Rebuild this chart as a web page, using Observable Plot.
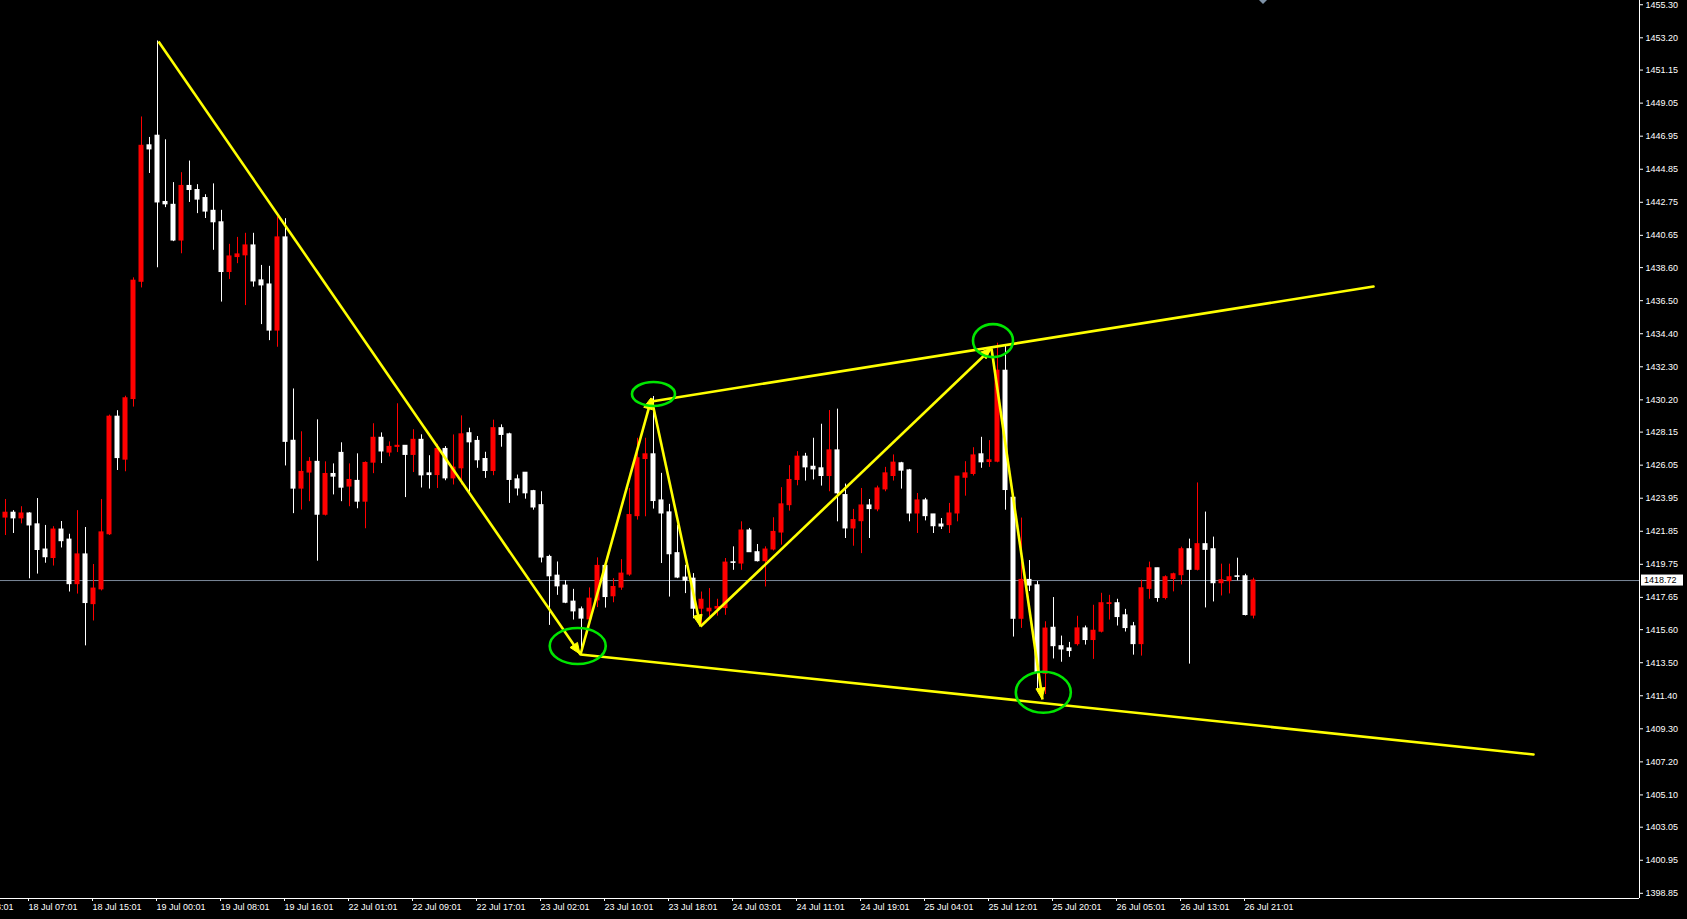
<!DOCTYPE html>
<html><head><meta charset="utf-8">
<script src="https://cdn.jsdelivr.net/npm/d3@7"></script>
<script src="https://cdn.jsdelivr.net/npm/@observablehq/plot@0.6"></script>
<style>html,body{margin:0;padding:0;background:#000;overflow:hidden}</style>
</head><body><div id="chart"></div>
<script>
// ---- data (hourly bars, index 5..161) ----
const firstBar = 5;
const opens = [1422.72,1423.03,1422.67,1422.98,1422.29,1420.69,1420.15,1421.96,1421.32,1418.49,1420.38,1417.22,1418.16,1421.66,1429.13,1426.40,1430.25,1437.70,1446.37,1446.98,1442.77,1442.59,1440.32,1443.79,1443.53,1443.02,1442.21,1441.48,1438.32,1439.27,1439.38,1440.01,1437.79,1437.53,1434.60,1440.52,1427.60,1424.56,1425.58,1426.26,1422.90,1425.49,1426.83,1424.69,1425.05,1423.73,1426.21,1427.79,1426.85,1427.21,1427.28,1426.70,1427.66,1425.53,1425.42,1427.08,1425.21,1425.85,1428.08,1427.59,1426.44,1425.68,1428.40,1428.01,1425.15,1425.57,1424.40,1423.51,1420.22,1419.03,1418.40,1417.38,1416.89,1416.25,1417.46,1419.65,1417.72,1418.27,1419.10,1422.81,1426.44,1426.74,1423.81,1423.05,1420.46,1418.91,1418.84,1416.93,1416.76,1416.93,1416.97,1419.88,1419.80,1421.90,1420.52,1419.95,1420.69,1421.77,1423.51,1425.11,1426.59,1425.95,1425.85,1425.36,1426.99,1424.15,1422.03,1422.49,1423.49,1423.24,1424.51,1425.36,1426.17,1425.72,1422.98,1423.81,1422.92,1422.28,1422.24,1422.98,1425.25,1425.49,1426.74,1426.25,1426.27,1432.05,1423.98,1416.29,1418.76,1418.42,1412.80,1415.72,1414.55,1414.41,1414.68,1415.68,1414.94,1415.47,1417.23,1417.28,1416.51,1415.81,1414.68,1418.19,1419.50,1417.61,1418.82,1419.06,1420.71,1419.40,1421.03,1420.71,1418.55,1418.68,1418.99,1418.99,1416.49];
const highs = [1423.87,1423.16,1423.41,1423.03,1423.93,1422.22,1422.14,1422.47,1421.66,1423.16,1422.09,1419.74,1423.87,1429.23,1429.51,1430.43,1437.95,1448.17,1446.87,1453.00,1446.72,1444.00,1444.63,1445.37,1443.87,1443.23,1443.92,1442.24,1440.08,1440.52,1440.78,1440.78,1438.74,1438.68,1441.82,1441.71,1430.89,1428.17,1426.53,1428.93,1426.26,1426.13,1427.47,1426.13,1426.77,1426.26,1428.68,1428.10,1427.53,1429.95,1427.28,1428.30,1427.98,1426.65,1427.38,1427.23,1427.97,1429.18,1428.40,1427.87,1426.87,1428.91,1428.61,1428.08,1425.42,1425.57,1424.45,1424.36,1420.33,1419.90,1418.71,1418.16,1417.04,1418.25,1420.16,1419.78,1418.84,1420.05,1424.57,1427.76,1427.76,1430.41,1425.53,1423.56,1422.24,1419.69,1419.16,1417.99,1418.21,1417.53,1420.12,1420.86,1422.45,1422.03,1421.01,1420.86,1422.71,1424.62,1426.02,1426.91,1426.80,1427.76,1428.65,1429.52,1429.61,1424.85,1423.24,1424.57,1423.87,1424.72,1425.91,1426.70,1426.23,1425.78,1424.25,1423.94,1422.92,1422.66,1423.62,1425.32,1426.27,1427.16,1427.82,1427.61,1433.80,1433.60,1424.20,1422.69,1419.99,1418.66,1416.10,1417.64,1415.19,1414.79,1416.45,1415.83,1417.15,1417.91,1417.78,1417.53,1416.89,1416.06,1418.74,1419.89,1419.50,1419.02,1419.19,1420.84,1421.35,1424.92,1423.07,1421.48,1419.76,1419.76,1420.14,1419.12,1418.87];
const lows = [1421.58,1421.71,1422.32,1418.83,1419.13,1419.82,1419.64,1420.79,1417.99,1417.86,1414.57,1416.15,1418.06,1421.58,1425.71,1425.63,1429.74,1437.31,1444.58,1438.59,1442.41,1440.25,1439.48,1442.74,1442.03,1441.72,1439.70,1436.41,1437.85,1438.85,1436.19,1437.36,1434.98,1433.96,1433.54,1426.00,1422.97,1423.20,1423.73,1419.95,1422.82,1424.16,1423.73,1423.41,1423.28,1422.01,1425.51,1426.15,1426.58,1426.85,1423.99,1425.58,1424.60,1424.53,1424.57,1425.06,1424.79,1424.79,1424.26,1425.85,1425.21,1425.38,1427.19,1423.62,1424.09,1423.89,1423.19,1419.84,1415.87,1417.78,1417.25,1416.21,1414.20,1415.87,1417.00,1416.97,1417.31,1418.10,1418.99,1422.56,1422.77,1423.26,1419.80,1417.67,1418.84,1417.89,1416.29,1415.80,1416.34,1416.46,1416.51,1419.37,1419.37,1420.52,1419.90,1418.31,1420.60,1420.97,1423.13,1424.74,1425.04,1425.11,1424.72,1424.36,1422.45,1421.39,1420.90,1420.43,1421.39,1423.09,1424.36,1425.04,1424.53,1422.45,1421.71,1422.51,1421.71,1421.96,1421.71,1422.45,1424.08,1425.36,1425.85,1425.91,1426.20,1423.19,1415.13,1415.68,1418.02,1411.73,1411.48,1413.74,1413.53,1413.84,1414.56,1414.62,1413.71,1415.39,1416.21,1415.83,1415.45,1413.98,1413.92,1417.53,1417.34,1417.49,1418.00,1418.44,1413.41,1419.33,1416.98,1417.36,1417.74,1417.87,1418.70,1416.47,1416.28];
const closes = [1423.03,1422.67,1422.98,1422.22,1420.66,1420.20,1421.96,1421.22,1418.49,1420.38,1417.29,1418.21,1421.78,1429.13,1426.50,1430.30,1437.77,1446.34,1446.11,1442.74,1442.62,1440.32,1443.79,1443.53,1442.92,1442.16,1441.48,1438.32,1439.31,1439.44,1440.01,1437.72,1437.47,1434.60,1440.52,1427.53,1424.56,1425.62,1426.26,1422.90,1425.49,1425.32,1424.62,1425.11,1423.73,1426.19,1427.79,1426.92,1427.21,1427.28,1426.70,1427.66,1425.40,1425.42,1427.08,1425.21,1425.89,1428.01,1427.50,1426.36,1425.68,1428.40,1427.97,1425.11,1424.57,1424.26,1423.36,1420.18,1418.99,1418.35,1417.31,1416.76,1416.30,1417.57,1419.65,1417.67,1418.31,1419.16,1422.88,1426.49,1426.74,1423.77,1422.98,1420.39,1418.91,1418.71,1416.93,1417.50,1416.93,1417.04,1419.86,1419.84,1421.90,1420.52,1419.95,1420.69,1421.81,1423.56,1425.11,1426.59,1425.91,1425.78,1425.36,1426.99,1424.26,1422.03,1422.56,1423.49,1423.26,1424.57,1425.53,1426.21,1425.70,1422.98,1423.81,1422.81,1422.17,1422.15,1422.98,1425.32,1425.53,1426.67,1426.23,1426.36,1432.05,1424.47,1416.29,1418.76,1418.40,1412.85,1415.67,1414.55,1414.34,1414.24,1415.68,1414.94,1415.53,1417.28,1417.28,1416.40,1415.70,1414.68,1418.23,1419.50,1417.61,1418.93,1419.12,1420.71,1419.40,1421.03,1420.67,1418.55,1418.74,1418.93,1418.95,1416.53,1418.72];

// time axis labels, one every 8 bars starting at bar 0
const timeLabels = ["17 Jul 23:01","18 Jul 07:01","18 Jul 15:01","19 Jul 00:01","19 Jul 08:01","19 Jul 16:01","22 Jul 01:01","22 Jul 09:01","22 Jul 17:01","23 Jul 02:01","23 Jul 10:01","23 Jul 18:01","24 Jul 03:01","24 Jul 11:01","24 Jul 19:01","25 Jul 04:01","25 Jul 12:01","25 Jul 20:01","26 Jul 05:01","26 Jul 13:01","26 Jul 21:01"];
const priceTicks = [1455.30,1453.20,1451.15,1449.05,1446.95,1444.85,1442.75,1440.65,1438.60,1436.50,1434.40,1432.30,1430.20,1428.15,1426.05,1423.95,1421.85,1419.75,1417.65,1415.60,1413.50,1411.40,1409.30,1407.20,1405.10,1403.05,1400.95,1398.85];
const lastPrice = 1418.72;

// annotation points (bar index, price)
const zigBar   = [24.125, 76.875, 85.75, 91.875, 128.25, 134.625];
const zigPrice = [1452.97, 1414.02, 1430.29, 1415.80, 1433.46, 1411.16];
const upperBar = [85.75, 176.0];
const upperPrice = [1430.10, 1437.40];
const lowerBar = [76.875, 196.0];
const lowerPrice = [1414.02, 1407.67];
const circleBar = [76.59, 86.06, 128.5, 134.79];
const circlePrice = [1414.53, 1430.54, 1433.93, 1411.59];
const shiftMarkBar = [162.25];

// ---- build ----
const candles = opens.map((o, k) => ({i: firstBar + k, o, h: highs[k], l: lows[k], c: closes[k]}));
const ups = candles.filter(d => d.c > d.o);
const downs = candles.filter(d => !(d.c > d.o));
const zigSegs = zigBar.slice(1).map((b, k) => ({x1: zigBar[k], y1: zigPrice[k], x2: b, y2: zigPrice[k + 1]}));
const upper = upperBar.map((b, k) => ({i: b, p: upperPrice[k]}));
const lower = lowerBar.map((b, k) => ({i: b, p: lowerPrice[k]}));
const xTicks = timeLabels.map((_, k) => 8 * k);

const W = 1687, H = 919;
const xDomain = [4.375, 209.25];
const yDomain = [1398.52, 1455.57];
const halfBody = 2.5 / 8;
const circleRadii = [[28, 18], [21.5, 12], [20, 16.5], [27.5, 20.5]];
const headLen = 11, headHalf = 4.5;

const overlay = (index, scales) => {
  const g = d3.create("svg:g");
  // filled arrow heads at the end of each zigzag segment
  zigSegs.forEach(s => {
    const ax = scales.x(s.x1), ay = scales.y(s.y1);
    const bx = scales.x(s.x2), by = scales.y(s.y2);
    const len = Math.hypot(bx - ax, by - ay);
    const ux = (bx - ax) / len, uy = (by - ay) / len;
    const px = -uy, py = ux;
    const cx = bx - ux * headLen, cy = by - uy * headLen;
    g.append("path")
      .attr("d", `M${bx},${by}L${cx + px * headHalf},${cy + py * headHalf}L${cx - px * headHalf},${cy - py * headHalf}Z`)
      .attr("fill", "#ffff00").attr("stroke", "#ffff00").attr("stroke-width", 1);
  });
  circleBar.forEach((b, k) => {
    g.append("ellipse")
      .attr("cx", scales.x(b)).attr("cy", scales.y(circlePrice[k]))
      .attr("rx", circleRadii[k][0]).attr("ry", circleRadii[k][1])
      .attr("fill", "none").attr("stroke", "#00e600").attr("stroke-width", 2.6);
  });
  const xr = scales.x(xDomain[1]);
  const yy = scales.y(lastPrice);
  g.append("rect").attr("x", xr + 2).attr("y", yy - 5.5).attr("width", 42).attr("height", 11).attr("fill", "#fff");
  g.append("text").attr("x", xr + 5).attr("y", yy).attr("dy", "0.35em")
    .attr("text-anchor", "start")
    .attr("fill", "#000").attr("font-size", 9).attr("font-family", "Liberation Sans, Arial, sans-serif")
    .text(lastPrice.toFixed(2));
  shiftMarkBar.forEach(b => {
    const sx = scales.x(b);
    g.append("path").attr("d", `M${sx - 4},0L${sx + 4},0L${sx},4Z`).attr("fill", "#7f93a8");
  });
  return g.node();
};

const chart = Plot.plot({
  width: W, height: H,
  marginTop: 0, marginBottom: 21, marginLeft: 0, marginRight: 48,
  style: {background: "#000", color: "#fff", fontFamily: "Liberation Sans, Arial, sans-serif", fontSize: "9px"},
  x: {type: "linear", domain: xDomain},
  y: {domain: yDomain},
  marks: [
    Plot.ruleY([lastPrice], {stroke: "#7a8899", strokeWidth: 1}),
    Plot.ruleX(ups, {x: "i", y1: "l", y2: "h", stroke: "#ff0000", strokeWidth: 1}),
    Plot.ruleX(downs, {x: "i", y1: "l", y2: "h", stroke: "#ffffff", strokeWidth: 1}),
    Plot.rect(ups, {x1: d => d.i - halfBody, x2: d => d.i + halfBody, y1: "o", y2: "c", fill: "#ff0000", insetTop: -0.5, insetBottom: -0.5}),
    Plot.rect(downs, {x1: d => d.i - halfBody, x2: d => d.i + halfBody, y1: "o", y2: "c", fill: "#ffffff", insetTop: -0.5, insetBottom: -0.5}),
    Plot.line(upper, {x: "i", y: "p", stroke: "#ffff00", strokeWidth: 2.6}),
    Plot.line(lower, {x: "i", y: "p", stroke: "#ffff00", strokeWidth: 2.6}),
    Plot.link(zigSegs, {x1: "x1", y1: "y1", x2: "x2", y2: "y2", stroke: "#ffff00", strokeWidth: 2.6}),
    Plot.ruleX([xDomain[1]], {stroke: "#fff", strokeWidth: 1}),
    Plot.ruleY([yDomain[0]], {stroke: "#fff", strokeWidth: 1}),
    Plot.axisY({anchor: "right", ticks: priceTicks, tickFormat: d => d.toFixed(2), tickSize: 3, tickPadding: 3, fill: "#fff"}),
    Plot.axisX({anchor: "bottom", ticks: xTicks, tickFormat: d => timeLabels[d / 8], tickSize: 3, tickPadding: 2, textAnchor: "start", dx: -1, fill: "#fff"}),
    overlay
  ]
});
document.getElementById("chart").appendChild(chart);
</script>
</body></html>
